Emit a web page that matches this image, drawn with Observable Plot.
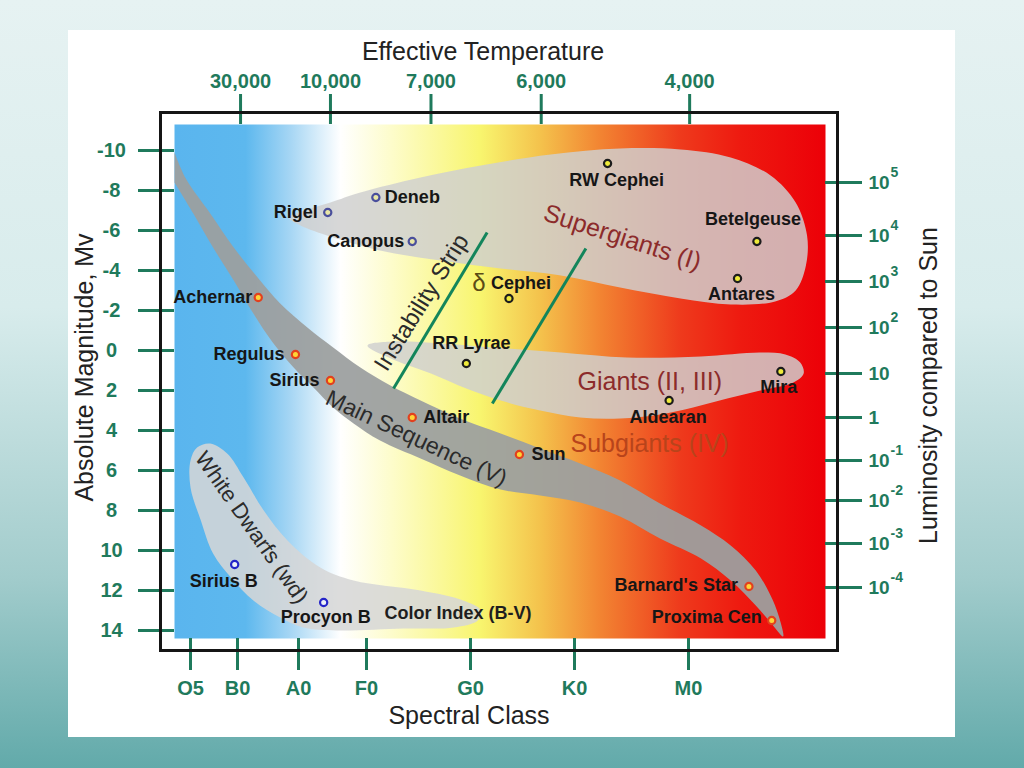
<!DOCTYPE html>
<html>
<head>
<meta charset="utf-8">
<script src="https://cdn.jsdelivr.net/npm/d3@7"></script>
<script src="https://cdn.jsdelivr.net/npm/@observablehq/plot@0.6"></script>
<style>
  html, body { margin: 0; padding: 0; width: 1024px; height: 768px; overflow: hidden; }
  body { position: relative; background: linear-gradient(to bottom, #e6f2f2 0%, #d8ecec 40%, #a2cccc 75%, #62aaaa 100%); }
  #panel { position: absolute; left: 68px; top: 30px; width: 887px; height: 707px; background: #ffffff; }
  #chart { position: absolute; left: 0; top: 0; width: 1024px; height: 768px; }
</style>
</head>
<body>
<div id="panel"></div>
<div id="chart"></div>
<script>
// ---------------- DATA ----------------
// Spectral class axis (x in spectral sub-class units: O5=5, B0=10, A0=20 ...)
const specLabels = ["O5", "B0", "A0", "F0", "G0", "K0", "M0"];
const specValues = [5, 10, 20, 30, 40, 50, 60];

// Effective temperature axis (top), located at spectral positions
const tempLabels = ["30,000", "10,000", "7,000", "6,000", "4,000"];
const tempSpec = [10.5, 24.7, 36.2, 46.8, 60.1];

// Absolute magnitude axis (left)
const magTicks = [-10, -8, -6, -4, -2, 0, 2, 4, 6, 8, 10, 12, 14];

// Luminosity axis (right): label base, exponent, and magnitude position
const lumBase = ["10", "10", "10", "10", "10", "1", "10", "10", "10", "10"];
const lumSup = ["5", "4", "3", "2", "", "", "-1", "-2", "-3", "-4"];
const lumMag = [-8.4, -5.75, -3.45, -1.15, 1.15, 3.35, 5.5, 7.5, 9.65, 11.85];

// Stars
const starNames = ["Rigel", "Deneb", "Canopus", "RW Cephei", "Betelgeuse", "Antares", "δ Cephei", "RR Lyrae", "Mira", "Aldearan",
  "Achernar", "Regulus", "Sirius", "Altair", "Sun", "Barnard's Star", "Proxima Cen", "Sirius B", "Procyon B"];
const starSpec = [24.3, 30.9, 34.4, 52.9, 66.0, 64.3, 43.7, 39.6, 68.1, 58.3, 13.4, 19.5, 24.7, 34.4, 44.7, 65.3, 67.3, 9.7, 23.7];
const starMag = [-6.9, -7.65, -5.45, -9.35, -5.45, -3.6, -2.6, 0.65, 1.05, 2.5, -2.65, 0.2, 1.5, 3.35, 5.2, 11.8, 13.5, 10.7, 12.6];
const starGroup = ["bsg", "bsg", "bsg", "giant", "giant", "giant", "giant", "giant", "giant", "giant",
  "ms", "ms", "ms", "ms", "ms", "ms", "ms", "wd", "wd"];

// Regions (outlines in spectral units / absolute magnitude)
const mainSeqSpec = [3.3, 4.5, 7.1, 9.6, 13.3, 17.0, 21.3, 25.1, 29.1, 32.3, 35.2, 39.0, 42.9, 46.7, 50.5, 54.0, 57.5, 61.1, 63.7, 65.9, 67.2, 67.9, 68.3,
  67.2, 65.9, 63.7, 61.1, 57.5, 54.0, 50.5, 46.7, 42.9, 39.0, 35.2, 31.3, 28.1, 25.1, 22.2, 19.2, 15.9, 12.6, 9.6, 7.4, 5.3, 3.3];
const mainSeqMag = [-9.9, -8.6, -6.85, -5.15, -3.65, -2.35, -1.15, -0.15, 0.85, 1.75, 2.5, 3.4, 4.15, 4.9, 5.65, 6.5, 7.65, 8.75, 9.75, 11.0, 12.25, 13.25, 14.3,
  13.6, 12.75, 11.5, 10.4, 9.4, 8.3, 7.6, 7.25, 6.95, 6.25, 5.4, 4.5, 3.65, 2.85, 1.85, 0.85, -0.35, -1.85, -3.5, -5.15, -6.85, -8.4];

const superSpec = [18.4, 20.9, 24.7, 29.1, 35.2, 41.0, 47.7, 54.0, 59.3, 63.7, 67.2, 69.4, 70.4, 70.3, 69.4, 67.6, 63.7, 59.3, 54.0, 48.7, 42.9, 37.1, 31.3, 24.7, 20.3];
const superMag = [-6.65, -7.0, -7.4, -7.9, -8.65, -9.25, -9.8, -10.1, -10.05, -9.65, -8.75, -7.4, -5.75, -4.25, -3.0, -2.45, -2.3, -2.6, -3.15, -3.75, -4.1, -4.5, -5.0, -5.7, -6.25];

const giantSpec = [30.1, 32.6, 37.1, 42.2, 48.7, 54.6, 61.1, 66.3, 68.5, 69.8, 70.1, 69.2, 66.3, 63.4, 60.4, 57.5, 54.0, 50.5, 46.7, 42.9, 39.6, 36.2, 32.8];
const giantMag = [-0.25, -0.45, -0.35, -0.15, 0.1, 0.35, 0.3, 0.1, 0.2, 0.6, 1.15, 1.6, 2.0, 2.4, 2.85, 3.2, 3.4, 3.35, 3.0, 2.5, 1.9, 1.15, 0.5];

const dwarfSpec = [5.7, 7.1, 8.9, 11.0, 14.3, 18.2, 23.2, 28.1, 35.2, 39.3, 41.0, 40.7, 38.4, 33.6, 25.7, 20.7, 17.0, 12.6, 9.3, 7.4, 6.1, 5.0, 5.0];
const dwarfMag = [4.85, 4.65, 5.15, 6.35, 8.0, 9.5, 10.85, 11.5, 12.0, 12.5, 13.0, 13.5, 13.85, 13.9, 14.0, 13.85, 13.35, 12.5, 11.35, 10.15, 8.5, 6.85, 5.5];

// Instability strip boundary lines
const stripSpecLow = [32.6, 42.1];
const stripMagLow = [1.9, 2.65];
const stripSpecHigh = [41.6, 51.0];
const stripMagHigh = [-5.9, -5.1];

// Region labels
const regionNames = ["Supergiants (I)", "Giants (II, III)", "Subgiants (IV)", "Main Sequence (V)", "White Dwarfs (wd)", "Instability Strip", "Color Index (B-V)"];
const regionSpec = [54.2, 56.6, 56.6, 34.8, 12.3, 35.3, 38.8];
const regionMag = [-5.65, 1.55, 4.65, 4.4, 8.85, -2.4, 13.15];

// ---------------- LAYOUT / STYLE ----------------
const green = "#1f7a5c";
const specRangePx = [190, 237, 298, 366, 470, 574, 688];
const margins = {marginLeft: 174, marginRight: 199, marginTop: 124, marginBottom: 130};
const magDomain = [-11.3, 14.4];
const edge = d3.scaleLinear().domain(specValues).range(specRangePx);
const specMin = edge.invert(margins.marginLeft);
const specMax = edge.invert(1024 - margins.marginRight);

const gradStops = [[0, "#5ab5ee"], [0.109, "#5db8ee"], [0.178, "#a6d6f4"], [0.255, "#ffffff"], [0.332, "#fdfccc"],
  [0.47, "#f8f56e"], [0.562, "#f4c24c"], [0.654, "#f28432"], [0.777, "#ee3a1c"], [0.869, "#ee1a10"], [1, "#ec0008"]];

const starStyle = {
  bsg: {stroke: "#4a4f9c", fill: "#e9e7a6"},
  giant: {stroke: "#1c1c1c", fill: "#eeea3a"},
  ms: {stroke: "#e2401e", fill: "#ffd437"},
  wd: {stroke: "#2424c8", fill: "#eef2f8"}
};
const labelPlacement = {
  "Rigel": ["end", -10, 0], "Deneb": ["start", 9, 0], "Canopus": ["end", -8, 0],
  "RW Cephei": ["middle", 9, 17], "Betelgeuse": ["middle", -4, -22], "Antares": ["middle", 4, 16],
  "δ Cephei": ["start", -18, -15], "RR Lyrae": ["middle", 5, -20], "Mira": ["middle", -2, 16],
  "Aldearan": ["middle", -1, 17], "Achernar": ["end", -6, 0], "Regulus": ["end", -11, 0],
  "Sirius": ["end", -11, 0], "Altair": ["start", 11, 0], "Sun": ["start", 12, 0],
  "Barnard's Star": ["end", -11, -1], "Proxima Cen": ["end", -10, -3],
  "Sirius B": ["middle", -11, 17], "Procyon B": ["middle", 2, 15]
};
const regionStyle = {
  "Supergiants (I)": {fill: "#8c2b2b", size: 25, rotate: 18, weight: "normal"},
  "Giants (II, III)": {fill: "#8c2b2b", size: 25, rotate: 0, weight: "normal"},
  "Subgiants (IV)": {fill: "#b8441b", size: 25, rotate: 0, weight: "normal"},
  "Main Sequence (V)": {fill: "#2b2b2b", size: 23, rotate: 25, weight: "normal"},
  "White Dwarfs (wd)": {fill: "#2b2b2b", size: 22, rotate: 55, weight: "normal"},
  "Instability Strip": {fill: "#2b2b2b", size: 24, rotate: -58, weight: "normal"},
  "Color Index (B-V)": {fill: "#1e1e1e", size: 18, rotate: 0, weight: "bold"}
};

// ---------------- MARKS ----------------
const pts = (xs, ys) => xs.map((x, i) => ({x, y: ys[i]}));
const idx = d3.range(starNames.length);
const marks = [];

marks.push(Plot.frame({fill: "url(#specGrad)", stroke: "none"}));
marks.push(Plot.line(pts(superSpec, superMag), {x: "x", y: "y", curve: "catmull-rom-closed", fill: "#cfcfcf", fillOpacity: 0.84, stroke: "none"}));
marks.push(Plot.line(pts(giantSpec, giantMag), {x: "x", y: "y", curve: "catmull-rom-closed", fill: "#cfcfcf", fillOpacity: 0.84, stroke: "none"}));
marks.push(Plot.line(pts(dwarfSpec, dwarfMag), {x: "x", y: "y", curve: "catmull-rom-closed", fill: "#d6d6d6", fillOpacity: 0.86, stroke: "none"}));
marks.push(Plot.line(pts(mainSeqSpec, mainSeqMag), {x: "x", y: "y", curve: "catmull-rom", fill: "#9c9f9f", fillOpacity: 0.94, stroke: "none"}));

marks.push(Plot.link(d3.range(stripSpecLow.length), {
  x1: i => stripSpecLow[i], y1: i => stripMagLow[i], x2: i => stripSpecHigh[i], y2: i => stripMagHigh[i],
  stroke: "#13855b", strokeWidth: 3
}));

regionNames.forEach((name, i) => {
  const s = regionStyle[name];
  marks.push(Plot.text([i], {x: d => regionSpec[d], y: d => regionMag[d], text: d => regionNames[d],
    rotate: s.rotate, fontSize: s.size, fontWeight: s.weight, fill: s.fill, textAnchor: "middle", lineAnchor: "middle"}));
});

Object.keys(starStyle).forEach(g => {
  marks.push(Plot.dot(idx.filter(i => starGroup[i] === g), {x: i => starSpec[i], y: i => starMag[i], r: 3.6,
    stroke: starStyle[g].stroke, fill: starStyle[g].fill, strokeWidth: 2.2}));
});

idx.forEach(i => {
  const [anchor, dx, dy] = labelPlacement[starNames[i]];
  const label = starNames[i].startsWith("δ ") ? starNames[i].slice(2) : starNames[i];
  marks.push(Plot.text([i], {x: d => starSpec[d], y: d => starMag[d], text: () => label, textAnchor: anchor,
    dx, dy, fontSize: 18, fontWeight: "bold", fill: "#161616", lineAnchor: "middle"}));
  if (starNames[i].startsWith("δ ")) {
    marks.push(Plot.text([i], {x: d => starSpec[d], y: d => starMag[d], text: () => "δ", textAnchor: "middle",
      dx: -30, dy: -15, fontSize: 24, fill: "#5b4b16", lineAnchor: "middle"}));
  }
});

// Axes: ticks
marks.push(Plot.ruleY(magTicks, {y: d => d, x1: specMin, x2: specMin, insetLeft: -36, stroke: green, strokeWidth: 3}));
marks.push(Plot.ruleY(lumMag, {y: d => d, x1: specMax, x2: specMax, insetRight: -37, stroke: green, strokeWidth: 3}));
marks.push(Plot.ruleX(specValues, {x: d => d, y1: magDomain[1], y2: magDomain[1], insetBottom: -32, stroke: green, strokeWidth: 3}));
marks.push(Plot.ruleX(tempSpec, {x: d => d, y1: magDomain[0], y2: magDomain[0], insetTop: -30, stroke: green, strokeWidth: 3}));

// Axes: tick labels
marks.push(Plot.text(magTicks, {x: specMin, y: d => d, text: d => String(d), textAnchor: "middle", dx: -63,
  fontSize: 20, fontWeight: "bold", fill: green, lineAnchor: "middle"}));
marks.push(Plot.text(d3.range(specValues.length), {x: i => specValues[i], y: magDomain[1], text: i => specLabels[i],
  textAnchor: "middle", dy: 50, fontSize: 20, fontWeight: "bold", fill: green, lineAnchor: "middle"}));
marks.push(Plot.text(d3.range(tempSpec.length), {x: i => tempSpec[i], y: magDomain[0], text: i => tempLabels[i],
  textAnchor: "middle", dy: -43, fontSize: 20, fontWeight: "bold", fill: green, lineAnchor: "middle"}));
marks.push(Plot.text(d3.range(lumMag.length), {x: specMax, y: i => lumMag[i], text: i => lumBase[i],
  textAnchor: "start", dx: 43, fontSize: 19, fontWeight: "bold", fill: green, lineAnchor: "middle"}));
marks.push(Plot.text(d3.range(lumMag.length).filter(i => lumSup[i] !== ""), {x: specMax, y: i => lumMag[i], text: i => lumSup[i],
  textAnchor: "start", dx: 65, dy: -10, fontSize: 14, fontWeight: "bold", fill: green, lineAnchor: "middle"}));

// Outer frame
marks.push(Plot.frame({stroke: "#151515", strokeWidth: 3, insetLeft: -14, insetRight: -12, insetTop: -12, insetBottom: -12}));

// Axis titles
const titleOpts = {fontSize: 25, fill: "#222", textAnchor: "middle", lineAnchor: "middle"};
marks.push(Plot.text(["Effective Temperature"], {...titleOpts, frameAnchor: "top", text: d => d, dx: -17, dy: -73}));
marks.push(Plot.text(["Spectral Class"], {...titleOpts, frameAnchor: "bottom", text: d => d, dx: -31, dy: 77}));
marks.push(Plot.text(["Absolute Magnitude, Mv"], {...titleOpts, frameAnchor: "left", text: d => d, rotate: -90, dx: -90, dy: -14}));
marks.push(Plot.text(["Luminosity compared to Sun"], {...titleOpts, frameAnchor: "right", text: d => d, rotate: -90, dx: 103, dy: 4}));

const chart = Plot.plot({
  width: 1024,
  height: 768,
  ...margins,
  x: {type: "linear", domain: specValues, range: specRangePx, axis: null},
  y: {domain: magDomain, reverse: true, axis: null},
  style: {background: "transparent", fontFamily: "'Liberation Sans', Arial, Helvetica, sans-serif", fontSize: "16px", color: "#222", overflow: "visible"},
  marks
});

const svg = chart.tagName.toLowerCase() === "svg" ? chart : chart.querySelector("svg");
const lg = d3.select(svg).insert("defs", ":first-child").append("linearGradient")
  .attr("id", "specGrad").attr("x1", 0).attr("x2", 1).attr("y1", 0).attr("y2", 0);
gradStops.forEach(([o, c]) => lg.append("stop").attr("offset", o).attr("stop-color", c));

document.getElementById("chart").appendChild(chart);
</script>
</body>
</html>
